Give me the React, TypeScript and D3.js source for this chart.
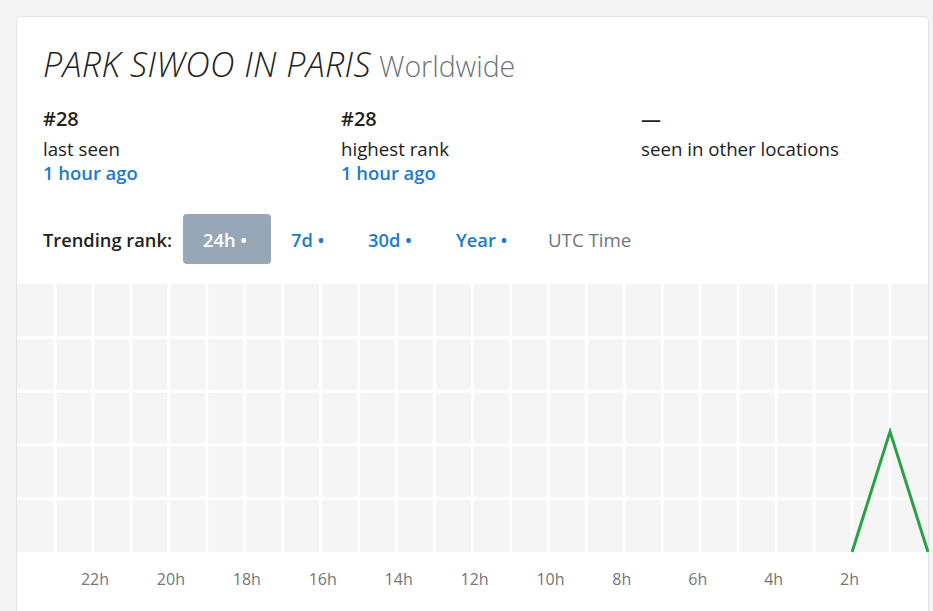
import React from "react";
import * as d3 from "d3";

const hoursAgo = [2, 1, 0];
const ranks = [50, 28, 50];
const tickHours = [22, 20, 18, 16, 14, 12, 10, 8, 6, 4, 2];
const gridHours = d3.range(0, 25);
const gridRanks = [1, 10.8, 20.6, 30.4, 40.2, 50];
const stats = [
  { value: "#28", label: "last seen", sub: "1 hour ago" },
  { value: "#28", label: "highest rank", sub: "1 hour ago" },
  { value: "—", label: "seen in other locations", sub: "" },
];
const periods = ["24h •", "7d •", "30d •", "Year •"];

const W = 933;
const H = 611;
const FONT = "'Open Sans', 'Noto Sans', sans-serif";

export default function App() {
  const x = d3.scaleLinear().domain([24, 0]).range([17, 928]);
  const y = d3.scaleLinear().domain([1, 50]).range([284, 552]);
  const line = d3
    .line<number>()
    .x((_, i) => x(hoursAgo[i]))
    .y((d) => y(d));

  const statX = [43, 341, 641];
  const periodX = [203, 291, 368, 456];

  return (
    <svg
      width={W}
      height={H}
      style={{ position: "absolute", left: 0, top: 0, fontFamily: FONT }}
    >
      <rect x={0} y={0} width={W} height={H} fill="#f4f4f4" />
      <rect x={16.5} y={16.5} width={912} height={640} rx={4} fill="#fff" stroke="#e2e2e2" />

      <text x={43} y={77} fontSize={34} fontStyle="italic" fontWeight={300} fill="#222" letterSpacing={0.45}>
        PARK SIWOO IN PARIS
        <tspan fontStyle="normal" fill="#6c757d" fontSize={28.5} letterSpacing={0} dx={8}>Worldwide</tspan>
      </text>

      {stats.map((s, i) => (
        <g key={i}>
          <text x={statX[i]} y={126} fontSize={20} fontWeight={600} fill="#222">{s.value}</text>
          <text x={statX[i]} y={156} fontSize={18.7} fill="#222">{s.label}</text>
          {s.sub && (
            <text x={statX[i]} y={180} fontSize={18.4} fontWeight={600} fill="#1b7ad0">{s.sub}</text>
          )}
        </g>
      ))}

      <text x={43} y={247} fontSize={18.3} fontWeight={600} fill="#222">Trending rank:</text>
      <rect x={183} y={214} width={88} height={50} rx={4} fill="#98a7b7" />
      {periods.map((p, i) => (
        <text key={p} x={periodX[i]} y={247} fontSize={18.3} fontWeight={600} fill={i === 0 ? "#fff" : "#1b7ad0"}>
          {p}
        </text>
      ))}
      <text x={548} y={247} fontSize={18.7} fill="#6c757d">UTC Time</text>

      <rect x={x(24)} y={y(1)} width={x(0) - x(24)} height={y(50) - y(1)} fill="#f5f5f5" />
      {gridRanks.slice(1, -1).map((r) => (
        <line key={r} x1={x(24)} x2={x(0)} y1={y(r)} y2={y(r)} stroke="#fff" strokeWidth={3} />
      ))}
      {gridHours.slice(1, -1).map((h) => (
        <line key={h} x1={x(h)} x2={x(h)} y1={y(1)} y2={y(50)} stroke="#fff" strokeWidth={3} />
      ))}

      <path d={line(ranks) || ""} fill="none" stroke="#2ba147" strokeWidth={3} />

      {tickHours.map((h) => (
        <text key={h} x={x(h) - 12} y={585} fontSize={16} fill="#757575" textAnchor="start">
          {h}h
        </text>
      ))}
    </svg>
  );
}
